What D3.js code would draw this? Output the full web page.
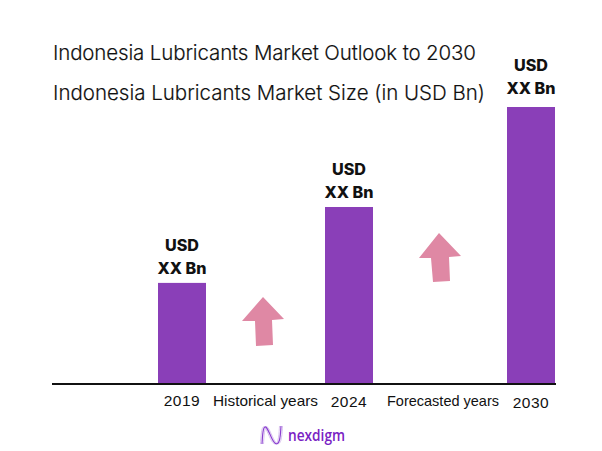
<!DOCTYPE html>
<html>
 <head>
  <meta charset="utf-8">
  <title>Indonesia Lubricants Market</title>
  <script src="https://cdn.jsdelivr.net/npm/d3@7"></script>
  <style>
    html, body { margin: 0; padding: 0; background: #fff; }
    svg { display: block; }
    text { fill: #111; }
    .title { font-family: Inter, sans-serif; font-size: 20.5px; font-weight: 300; stroke: #111; stroke-width: 0.15px; }
    .val { font-family: Inter, sans-serif; font-size: 15.5px; font-weight: 800; text-anchor: middle; }
    .tick { font-family: "Liberation Sans", sans-serif; font-size: 15.5px; text-anchor: middle; letter-spacing: 0.5px; }
    .note { font-family: "Liberation Sans", sans-serif; font-size: 14.5px; text-anchor: middle; }
  </style>
 </head>
 <body>
 <div id="draw"></div>
 <script>
    // values are relative, the source hides the real numbers behind "XX"
    var years = ['2019', '2024', '2030'];
    var sizes = [36.5, 63.9, 100];
    var valueLabels = [['USD', 'XX Bn'], ['USD', 'XX Bn'], ['USD', 'XX Bn']];
    var periods = ['Historical years', 'Forecasted years'];
    var titles = ['Indonesia Lubricants Market Outlook to 2030', 'Indonesia Lubricants Market Size (in USD Bn)'];

    var w = 602, h = 451, baseY = 384, barW = 48;

    var svg = d3.select('#draw').append('svg').attr('width', w).attr('height', h);

    // bars are not evenly spaced in the source
    var x = d3.scaleOrdinal().domain(years).range([182, 349, 531]);
    var y = d3.scaleLinear().domain([0, 100]).range([baseY, 107]);

    svg.append('text').attr('class', 'title').attr('x', 53).attr('y', 60)
      .attr('textLength', 423).attr('lengthAdjust', 'spacing').text(titles[0]);
    svg.append('text').attr('class', 'title').attr('x', 53).attr('y', 100)
      .attr('textLength', 432).attr('lengthAdjust', 'spacing').text(titles[1]);

    svg.selectAll('rect.bar').data(years).enter().append('rect')
      .attr('class', 'bar')
      .attr('x', function(d) { return x(d) - barW / 2; })
      .attr('width', barW)
      .attr('y', function(d, i) { return y(sizes[i]); })
      .attr('height', function(d, i) { return baseY - y(sizes[i]); })
      .attr('fill', '#8a3fb8');

    svg.append('line').attr('x1', 52).attr('x2', 556).attr('y1', baseY).attr('y2', baseY)
      .attr('stroke', '#111').attr('stroke-width', 2);

    // the tallest bar's label sits a bit higher
    var labelGap = [0, 0, 4];
    years.forEach(function(d, i) {
      var top = y(sizes[i]) - labelGap[i];
      svg.append('text').attr('class', 'val').attr('x', x(d)).attr('y', top - 32)
        .attr('textLength', 34).attr('lengthAdjust', 'spacingAndGlyphs').text(valueLabels[i][0]);
      svg.append('text').attr('class', 'val').attr('x', x(d)).attr('y', top - 9)
        .attr('textLength', 49).attr('lengthAdjust', 'spacingAndGlyphs').text(valueLabels[i][1]);
    });

    // year labels sit a little lower for the later years
    var tickY = [406, 407, 408];
    years.forEach(function(d, i) {
      svg.append('text').attr('class', 'tick').attr('x', x(d)).attr('y', tickY[i]).text(d);
    });
    svg.append('text').attr('class', 'note').attr('x', 265.5).attr('y', 406)
      .attr('textLength', 105).attr('lengthAdjust', 'spacingAndGlyphs').text(periods[0]);
    svg.append('text').attr('class', 'note').attr('x', 443).attr('y', 406)
      .attr('textLength', 112).attr('lengthAdjust', 'spacingAndGlyphs').text(periods[1]);

    // slightly tilted up arrows between the bars
    var arrow = d3.line();
    var arrowPts = [
      [[263, 297], [284, 319], [272, 320], [273, 345], [256, 346], [255, 321], [242, 321]],
      [[439, 233], [461, 256], [449, 257], [450, 281], [433, 282], [431, 258], [419, 258]]
    ];
    svg.selectAll('path.arrow').data(arrowPts).enter().append('path')
      .attr('class', 'arrow')
      .attr('d', function(d) { return arrow(d) + 'Z'; })
      .attr('fill', '#df88a4');

    // logo
    var logo = svg.append('g').attr('transform', 'translate(262,425)');
    var wave = d3.line().curve(d3.curveBasis);
    [[1.5, '#d9c2ee', 1], [-1.5, '#d9c2ee', 1], [0, '#8a3fd0', 1.2]].forEach(function(o) {
      logo.append('path')
        .attr('d', wave([[0, 19], [1, 3], [4, 0], [9, 12], [13, 20], [18, 18], [19, 1]]))
        .attr('transform', 'translate(' + o[0] + ',0)')
        .attr('fill', 'none').attr('stroke', o[1]).attr('stroke-width', o[2]);
    });
    svg.append('text').attr('x', 288).attr('y', 441)
      .attr('textLength', 57).attr('lengthAdjust', 'spacingAndGlyphs')
      .style('font-family', '"Open Sans", sans-serif').style('font-size', '15.5px').style('font-weight', 600)
      .style('fill', '#7a22c4').text('nexdigm');
 </script>
 </body>
</html>
